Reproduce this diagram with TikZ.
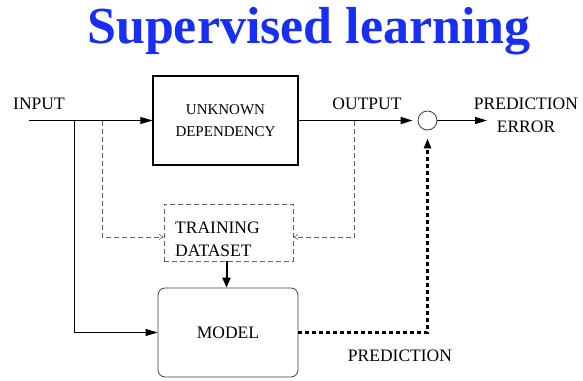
\documentclass[tikz,border=0pt]{standalone}
\usepackage{fontspec}
\setmainfont{Liberation Serif}
\usetikzlibrary{arrows.meta}
\definecolor{titleblue}{RGB}{22,46,245}
\definecolor{dashgray}{RGB}{95,95,95}
\begin{document}
\begin{tikzpicture}[x=1pt,y=-1pt,
  lbl/.style={font=\fontsize{17.5}{23}\selectfont, inner sep=0pt, align=center},
  boxtext/.style={font=\fontsize{15}{22.5}\selectfont, align=center},
  solidtip/.style={-{Triangle[length=12pt,width=7pt]}},
  thin line/.style={line width=0.8pt},
  dashline/.style={draw=dashgray, line width=0.7pt, dash pattern=on 5pt off 3pt},
  dashtip/.style={-{Straight Barb[length=4pt,width=5pt,line width=0.6pt]}},
  dotline/.style={line width=2.3pt, dash pattern=on 4pt off 3pt},
]
\useasboundingbox (0,0) rectangle (583,380);

% title
\node[font=\fontsize{52}{60}\selectfont\bfseries, text=titleblue, anchor=base, inner sep=0pt]
  (title) at (309,43.5) {Supervised learning};

% blocks
\node[draw, line width=1.1pt, minimum width=145pt, minimum height=89pt, boxtext]
  (unk) at (225.5,120.5) {UNKNOWN\\DEPENDENCY};
\node[dashline, minimum width=129pt, minimum height=57pt, inner sep=0pt]
  (train) at (228.5,232.5) {};
\node[lbl, align=left, anchor=west, font=\fontsize{17.5}{23.5}\selectfont]
  (trainlbl) at (175,239.5) {TRAINING\\DATASET};
\node[draw=black!75, line width=0.8pt, rounded corners=7pt, minimum width=140pt,
  minimum height=89pt, lbl] (model) at (228,332.5) {MODEL};
\node[draw=black!75, circle, line width=0.8pt, minimum size=19pt, inner sep=0pt]
  (sum) at (427.5,120.5) {};

% labels
\node[lbl] (inlbl) at (39,104) {INPUT};
\node[lbl] (outlbl) at (367,104) {OUTPUT};
\node[lbl] (errlbl) at (526,115.5) {PREDICTION\\ERROR};
\node[lbl] (predlbl) at (400,355.5) {PREDICTION};

% junction points
\coordinate (inL) at (29,120.5);
\coordinate (b1) at (74,120.5);
\coordinate (b2) at (102,120.5);
\coordinate (b3) at (354,120.5);
\coordinate (err) at (487,120.5);

% connectors
\draw[thin line, solidtip] (inL) -- (unk.west);
\draw[thin line, solidtip] (b1) |- (model.west);
\draw[dashline, dashtip] (b2) |- ([yshift=-4.5pt]train.west);
\draw[line width=1.8pt, solidtip, shorten >=5pt] (unk.east) -- (sum.west);
\draw[dashline, dashtip] (b3) |- ([yshift=-4.5pt]train.east);
\draw[thin line, solidtip] (sum.east) -- (err);
\draw[line width=2pt, -{Triangle[length=10pt,width=8pt]}]
  ([xshift=-2pt]train.south) -- ([xshift=-2pt]train.south |- model.north);
\draw[dotline, -{Triangle[length=10pt,width=7pt]}, shorten >=8pt]
  (model.east) -| (sum.south);
\end{tikzpicture}
\end{document}
